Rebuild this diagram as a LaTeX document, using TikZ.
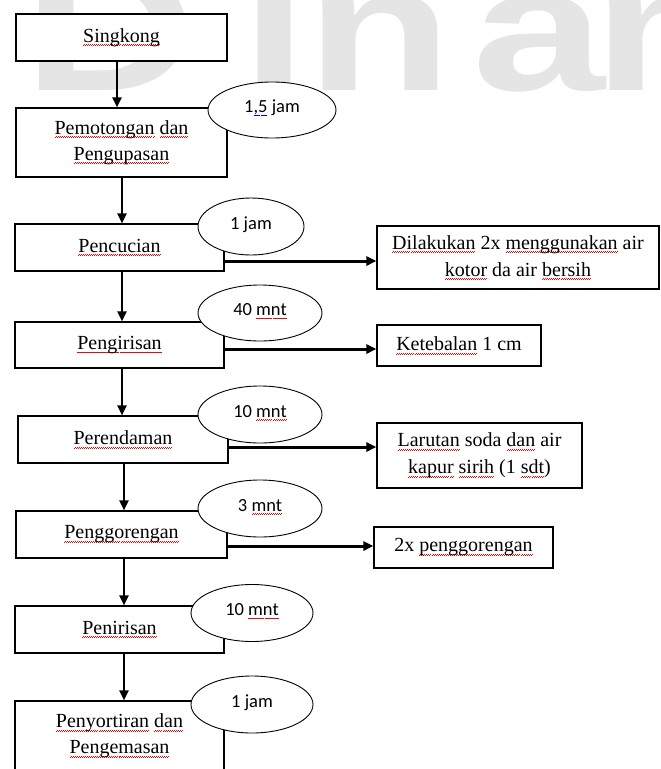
\documentclass[tikz,border=0pt]{standalone}
\usepackage{fontspec}
\setmainfont{Liberation Serif}
\newfontfamily\elfont{Carlito}
\newfontfamily\wmfont{Liberation Sans}
\usetikzlibrary{arrows.meta,shapes.geometric}

% spelling and grammar squiggles
\newcommand\wavebit{\hbox{\rule{1pt}{0.6pt}\raise0.8pt\hbox{\rule{1pt}{0.6pt}}}}
\newcommand\waveline[2]{\setbox0\hbox{#2}\rlap{\lower3.5pt\hbox to\wd0{\color{#1}\xleaders\wavebit\hfil}}\box0\relax}
\newcommand\spl[1]{\waveline{red}{#1}}
\newcommand\grm[1]{\waveline{blue}{#1}}

\tikzset{
	stepbox/.style={draw, line width=1.1pt, fill=white, inner sep=0pt, align=center, font=\fontsize{20}{26}\selectfont},
	notebox/.style={draw, line width=1.1pt, fill=white, inner sep=0pt, align=center, font=\fontsize{20}{27}\selectfont},
	timeoval/.style={draw, ellipse, line width=0.9pt, fill=white, inner sep=0pt, minimum width=124pt, minimum height=57pt, text height=12pt, text depth=7pt, font=\elfont\fontsize{18.5}{20}\selectfont},
	wmark/.style={inner sep=0pt, text=gray!20, xscale=1.35, font=\wmfont\bfseries\fontsize{177}{177}\selectfont},
	varrow/.style={line width=2.2pt, -{Triangle[length=10pt,width=9pt]}},
	harrow/.style={line width=3pt, -{Triangle[length=10pt,width=9pt]}},
}

\begin{document}
\begin{tikzpicture}[x=1pt, y=-1pt]
	\useasboundingbox (0,0) rectangle (661,769);
	\clip (0,0) rectangle (661,769);
	\fill[white] (0,0) rectangle (661,769);

	% watermark
	\foreach \ch/\px in {D/23, i/241, n/306, a/472, m/593}
		\node[wmark, anchor=base west] (wm\px) at (\px,90) {\ch};

	% process steps
	\node[stepbox, minimum width=211pt, minimum height=47pt] (singkong) at (121.5,37.5) {\spl{Singkong}};
	\node[stepbox, minimum width=211pt, minimum height=69pt] (kupas) at (121.5,142.5) {\spl{Pemotongan} \spl{dan}\\\spl{Pengupasan}};
	\node[stepbox, minimum width=209pt, minimum height=47pt] (cuci) at (119.5,247.5) {\spl{Pencucian}};
	\node[stepbox, minimum width=209pt, minimum height=46pt] (iris) at (119.5,345) {\spl{Pengirisan}};
	\node[stepbox, minimum width=210pt, minimum height=47pt] (rendam) at (123,439.5) {\spl{Perendaman}};
	\node[stepbox, minimum width=211pt, minimum height=47pt] (goreng) at (121.5,534.5) {\spl{Penggorengan}};
	\node[stepbox, minimum width=209pt, minimum height=47pt] (tiris) at (119.5,629.5) {\spl{Penirisan}};
	\node[stepbox, minimum width=209pt, minimum height=70pt] (kemas) at (119.5,736) {\spl{Penyortiran} \spl{dan}\\\spl{Pengemasan}};

	% notes
	\node[notebox, minimum width=282pt, minimum height=63pt] (ncuci) at (518,257.5) {\spl{Dilakukan} 2x \spl{menggunakan} air\\\spl{kotor} da air \spl{bersih}};
	\node[notebox, minimum width=164pt, minimum height=41pt] (niris) at (459,345.5) {\spl{Ketebalan} 1 cm};
	\node[notebox, minimum width=205pt, minimum height=65pt] (nrendam) at (479.5,455.5) {\spl{Larutan} soda \spl{dan} air\\\spl{kapur} \spl{sirih} (1 \spl{sdt})};
	\node[notebox, minimum width=179pt, minimum height=41pt] (ngoreng) at (463.5,547.5) {2x \spl{penggorengan}};

	% durations
	\node[timeoval, minimum width=128pt, minimum height=56pt] (dkupas) at (272,110) {1\grm{,5} jam};
	\node[timeoval, minimum width=106pt] (dcuci) at (251,226.5) {1 jam};
	\node[timeoval, minimum height=56pt] (diris) at (260,313) {40 \spl{mnt}};
	\node[timeoval] (drendam) at (260,414.5) {10 \spl{mnt}};
	\node[timeoval] (dgoreng) at (260,508.5) {3 \spl{mnt}};
	\node[timeoval, minimum width=122pt] (dtiris) at (252,613) {10 \spl{mnt}};
	\node[timeoval, minimum width=122pt] (dkemas) at (252,704.5) {1 jam};

	% flow
	\draw[varrow] ([xshift=-4.5pt]singkong.south) -- ([xshift=-4.5pt]kupas.north);
	\draw[varrow] ([xshift=0.5pt]kupas.south) -- ([xshift=2.5pt]cuci.north);
	\draw[varrow] ([xshift=2.5pt]cuci.south) -- ([xshift=2.5pt]iris.north);
	\draw[varrow] ([xshift=2.5pt]iris.south) -- ([xshift=-1pt]rendam.north);
	\draw[varrow] ([xshift=1pt]rendam.south) -- ([xshift=2.5pt]goreng.north);
	\draw[varrow] ([xshift=2.5pt]goreng.south) -- ([xshift=4.5pt]tiris.north);
	\draw[varrow] ([xshift=4.5pt]tiris.south) -- ([xshift=4.5pt]kemas.north);

	% side notes
	\draw[harrow] ([yshift=-13.5pt]cuci.east) -- ([yshift=-3.5pt]ncuci.west);
	\draw[harrow] ([yshift=-4pt]iris.east) -- ([yshift=-3.5pt]niris.west);
	\draw[harrow] ([yshift=-7.5pt]rendam.east) -- ([yshift=8.5pt]nrendam.west);
	\draw[harrow] ([yshift=-11.5pt]goreng.east) -- ([yshift=1.5pt]ngoreng.west);
\end{tikzpicture}
\end{document}
